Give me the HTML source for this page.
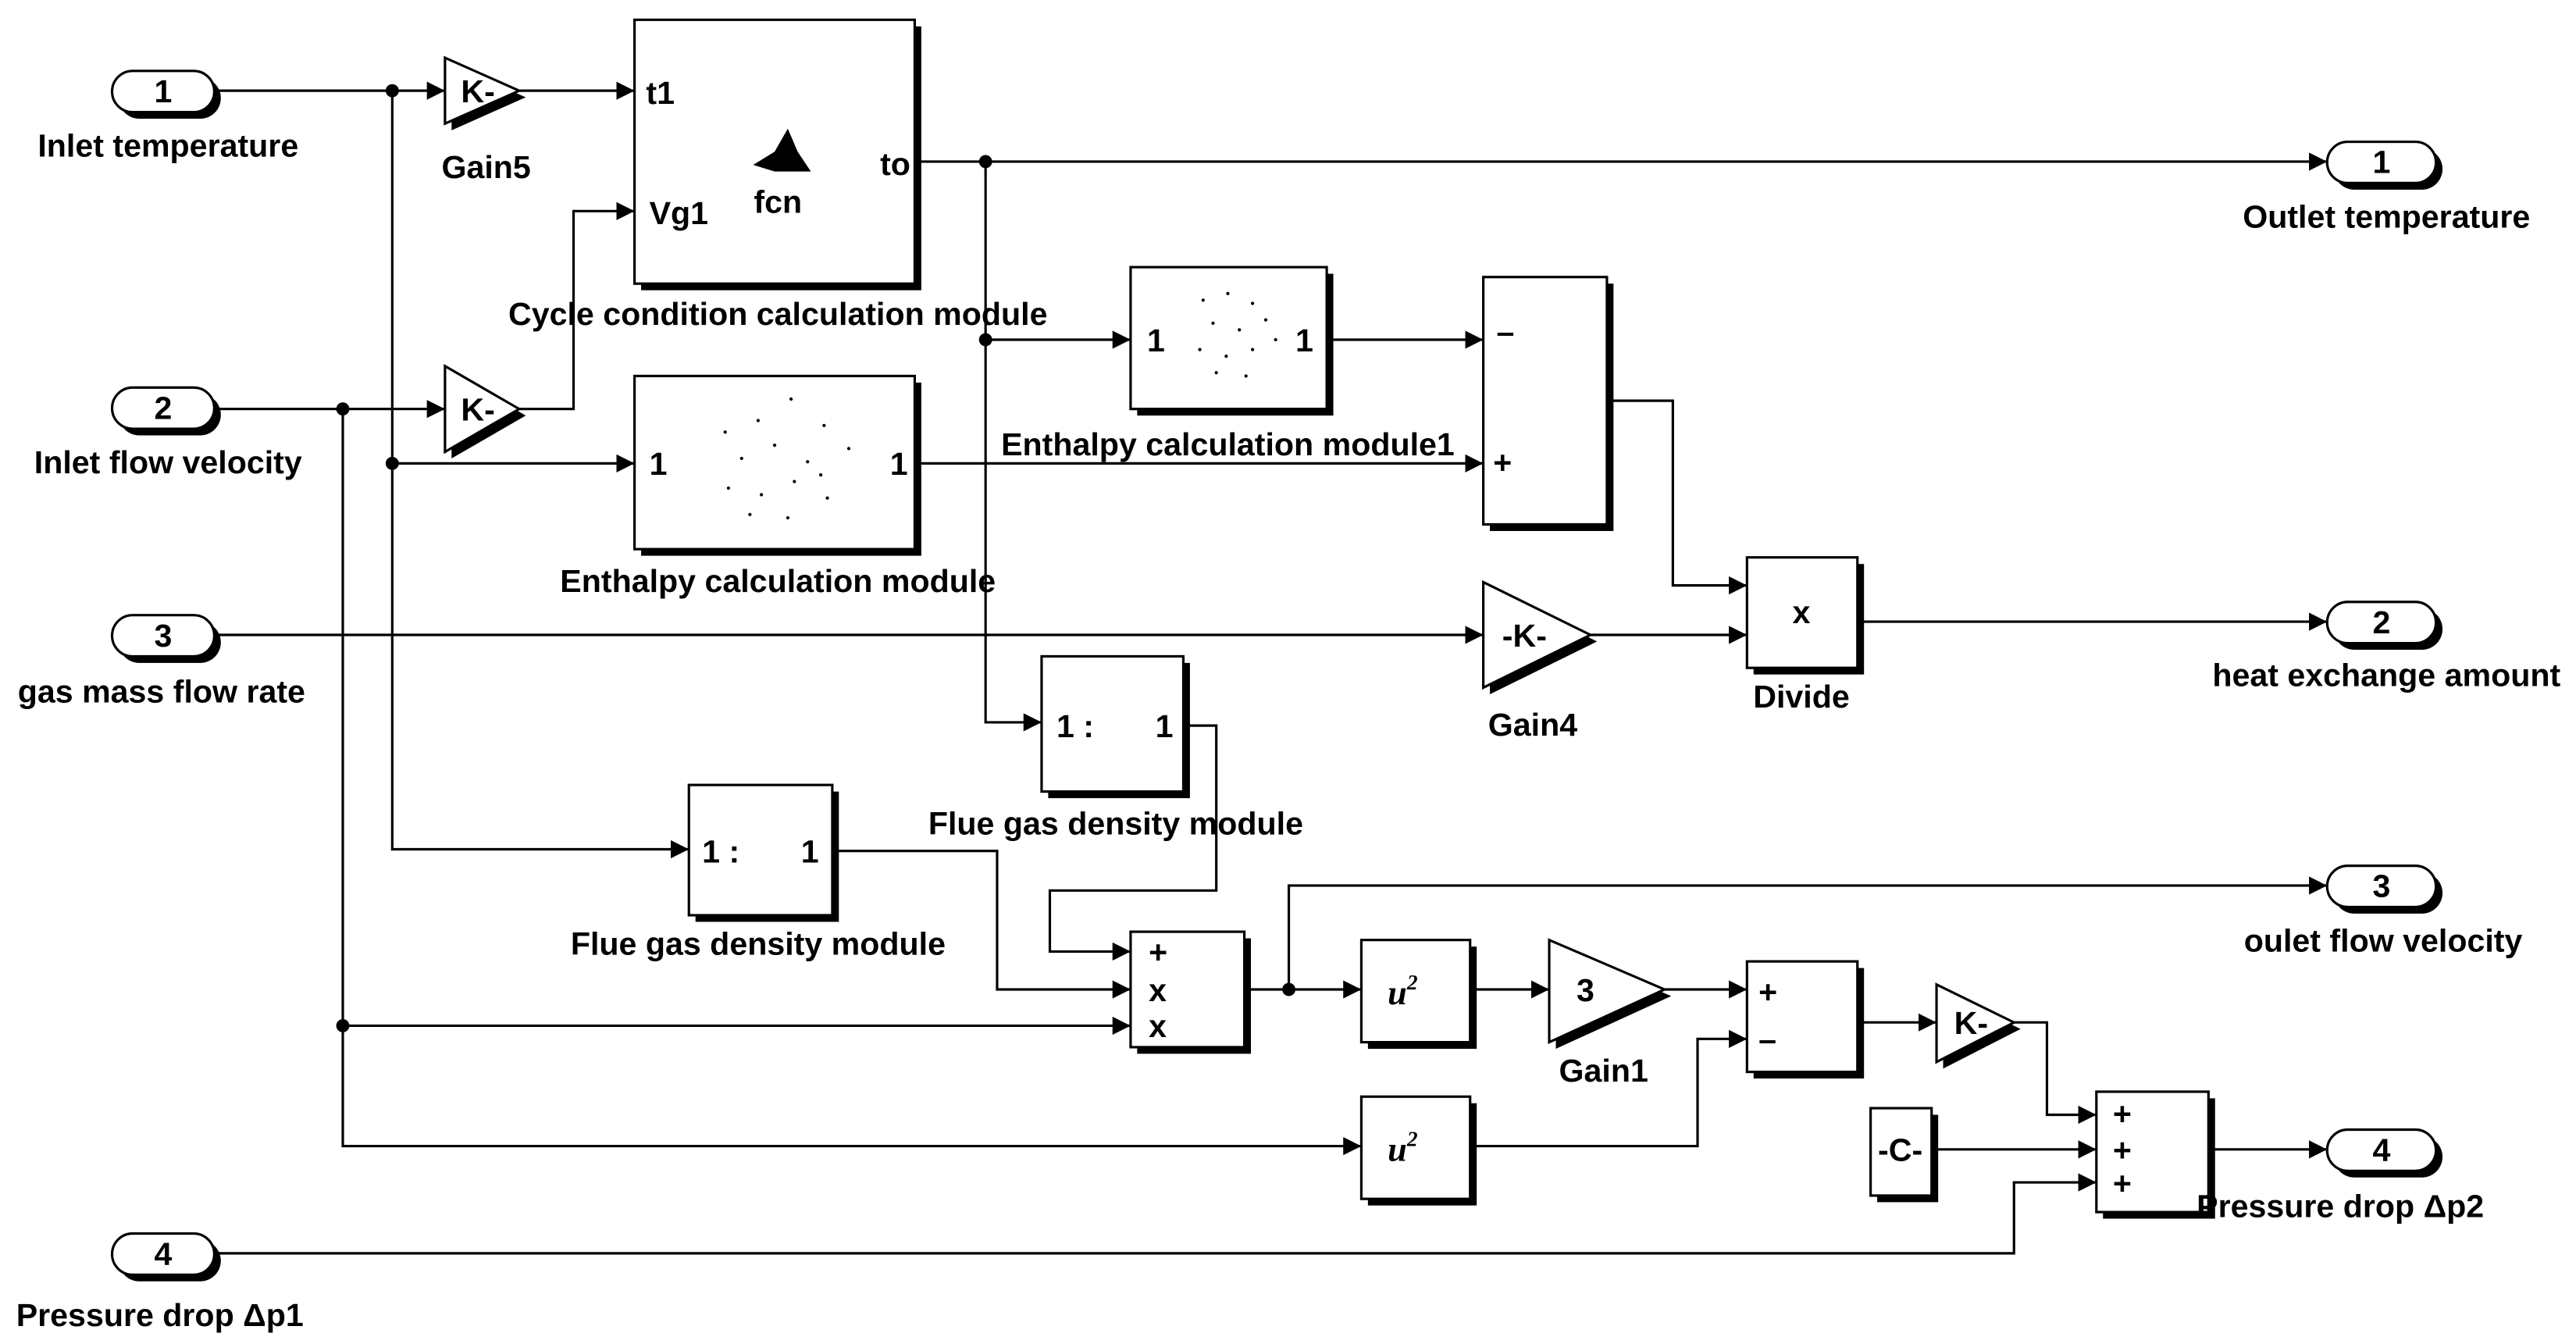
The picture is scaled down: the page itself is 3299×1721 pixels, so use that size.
<!DOCTYPE html>
<html><head><meta charset="utf-8"><style>
html,body{margin:0;padding:0;background:#fff;}
svg{display:block;}
text{font-family:"Liberation Sans",Arial,sans-serif;font-weight:bold;font-size:19.5px;fill:#000;}
</style></head><body>
<svg width="3299" height="1721" viewBox="0 0 1563 815" preserveAspectRatio="none" xmlns="http://www.w3.org/2000/svg">
<defs>
<marker id="a" viewBox="0 0 10 10" refX="10" refY="5" markerWidth="11" markerHeight="11" markerUnits="userSpaceOnUse" orient="auto"><path d="M0,0L10,5L0,10z" fill="#000"/></marker>
</defs>
<rect width="1563" height="815" fill="#fff"/>
<g fill="none" stroke="#000" stroke-width="1.5">
<path d="M130,55H270" marker-end="url(#a)"/>
<path d="M315,55H385" marker-end="url(#a)"/>
<path d="M238,55V515H418" marker-end="url(#a)"/>
<path d="M238,281H385" marker-end="url(#a)"/>
<path d="M555,98H1412" marker-end="url(#a)"/>
<path d="M598,98V438H632" marker-end="url(#a)"/>
<path d="M598,206H686" marker-end="url(#a)"/>
<path d="M805,206H900" marker-end="url(#a)"/>
<path d="M555,281H900" marker-end="url(#a)"/>
<path d="M975,243H1015V355H1060" marker-end="url(#a)"/>
<path d="M130,248H270" marker-end="url(#a)"/>
<path d="M315,248H348V128H385" marker-end="url(#a)"/>
<path d="M208,248V695H826" marker-end="url(#a)"/>
<path d="M208,622H686" marker-end="url(#a)"/>
<path d="M130,385H900" marker-end="url(#a)"/>
<path d="M965,385H1060" marker-end="url(#a)"/>
<path d="M1127,377H1412" marker-end="url(#a)"/>
<path d="M718,440H738V540H637V577H686" marker-end="url(#a)"/>
<path d="M505,516H605V600H686" marker-end="url(#a)"/>
<path d="M755,600H826" marker-end="url(#a)"/>
<path d="M782,600V537H1412" marker-end="url(#a)"/>
<path d="M892,600H940" marker-end="url(#a)"/>
<path d="M1010,600H1060" marker-end="url(#a)"/>
<path d="M892,695H1030V630H1060" marker-end="url(#a)"/>
<path d="M1127,620H1175" marker-end="url(#a)"/>
<path d="M1222,620H1242V676H1272" marker-end="url(#a)"/>
<path d="M1172,697H1272" marker-end="url(#a)"/>
<path d="M130,760H1222V717H1272" marker-end="url(#a)"/>
<path d="M1340,697H1412" marker-end="url(#a)"/>
</g>
<g fill="#000">
<circle cx="238" cy="55" r="4"/><circle cx="238" cy="281" r="4"/>
<circle cx="598" cy="98" r="4"/><circle cx="598" cy="206" r="4"/>
<circle cx="208" cy="248" r="4"/><circle cx="208" cy="622" r="4"/>
<circle cx="782" cy="600" r="4"/>
</g>
<g stroke="#000" stroke-width="1.5">
<g fill="#000" stroke="none">
<rect x="389" y="16" width="170" height="160"/>
<rect x="690" y="166" width="119" height="86"/>
<rect x="389" y="232" width="170" height="105"/>
<rect x="904" y="172" width="75" height="150"/>
<rect x="1064" y="342" width="67" height="67"/>
<rect x="636" y="402" width="86" height="82"/>
<rect x="422" y="480" width="87" height="79"/>
<rect x="690" y="569" width="69" height="70"/>
<rect x="830" y="574" width="66" height="62"/>
<rect x="830" y="669" width="66" height="62"/>
<rect x="1064" y="587" width="67" height="67"/>
<rect x="1139" y="676" width="37" height="53"/>
<rect x="1276" y="666" width="68" height="73"/>
<polygon points="274,39 319,59 274,79"/>
<polygon points="274,226 319,252 274,278"/>
<polygon points="904,357 969,389 904,421"/>
<polygon points="944,574 1014,604 944,636"/>
<polygon points="1179,601 1226,624 1179,648"/>
<rect x="72" y="47" width="62" height="25" rx="12.5"/>
<rect x="72" y="239" width="62" height="25" rx="12.5"/>
<rect x="72" y="377" width="62" height="25" rx="12.5"/>
<rect x="72" y="752" width="62" height="25" rx="12.5"/>
<rect x="1416" y="90" width="66" height="25" rx="12.5"/>
<rect x="1416" y="369" width="66" height="25" rx="12.5"/>
<rect x="1416" y="529" width="66" height="25" rx="12.5"/>
<rect x="1416" y="689" width="66" height="25" rx="12.5"/>
</g>
<g fill="#fff">
<rect x="385" y="12" width="170" height="160"/>
<rect x="686" y="162" width="119" height="86"/>
<rect x="385" y="228" width="170" height="105"/>
<rect x="900" y="168" width="75" height="150"/>
<rect x="1060" y="338" width="67" height="67"/>
<rect x="632" y="398" width="86" height="82"/>
<rect x="418" y="476" width="87" height="79"/>
<rect x="686" y="565" width="69" height="70"/>
<rect x="826" y="570" width="66" height="62"/>
<rect x="826" y="665" width="66" height="62"/>
<rect x="1060" y="583" width="67" height="67"/>
<rect x="1135" y="672" width="37" height="53"/>
<rect x="1272" y="662" width="68" height="73"/>
<polygon points="270,35 315,55 270,75"/>
<polygon points="270,222 315,248 270,274"/>
<polygon points="900,353 965,385 900,417"/>
<polygon points="940,570 1010,600 940,632"/>
<polygon points="1175,597 1222,620 1175,644"/>
<rect x="68" y="43" width="62" height="25" rx="12.5"/>
<rect x="68" y="235" width="62" height="25" rx="12.5"/>
<rect x="68" y="373" width="62" height="25" rx="12.5"/>
<rect x="68" y="748" width="62" height="25" rx="12.5"/>
<rect x="1412" y="86" width="66" height="25" rx="12.5"/>
<rect x="1412" y="365" width="66" height="25" rx="12.5"/>
<rect x="1412" y="525" width="66" height="25" rx="12.5"/>
<rect x="1412" y="685" width="66" height="25" rx="12.5"/>
</g>
</g>
<path d="M457,100 L470,92 L478,78 L484,92 L492,104 L470,104 Z" fill="#000"/>
<g fill="#000">
<circle cx="730" cy="182" r="1"/><circle cx="745" cy="178" r="1"/><circle cx="760" cy="184" r="1"/><circle cx="736" cy="196" r="1"/><circle cx="752" cy="200" r="1"/><circle cx="768" cy="194" r="1"/><circle cx="728" cy="212" r="1"/><circle cx="744" cy="216" r="1"/><circle cx="760" cy="212" r="1"/><circle cx="774" cy="206" r="1"/><circle cx="738" cy="226" r="1"/><circle cx="756" cy="228" r="1"/>
<circle cx="440" cy="262" r="1"/><circle cx="460" cy="255" r="1"/><circle cx="480" cy="242" r="1"/><circle cx="500" cy="258" r="1"/><circle cx="450" cy="278" r="1"/><circle cx="470" cy="270" r="1"/><circle cx="490" cy="280" r="1"/><circle cx="515" cy="272" r="1"/><circle cx="442" cy="296" r="1"/><circle cx="462" cy="300" r="1"/><circle cx="482" cy="292" r="1"/><circle cx="502" cy="302" r="1"/><circle cx="455" cy="312" r="1"/><circle cx="478" cy="314" r="1"/><circle cx="498" cy="288" r="1"/>
</g>
<g text-anchor="middle">
<text x="99" y="62">1</text><text x="99" y="254">2</text><text x="99" y="392">3</text><text x="99" y="767">4</text>
<text x="1445" y="105">1</text><text x="1445" y="384">2</text><text x="1445" y="544">3</text><text x="1445" y="704">4</text>
<text x="102" y="95">Inlet temperature</text>
<text x="102" y="287">Inlet flow velocity</text>
<text x="98" y="426">gas mass flow rate</text>
<text x="97" y="804">Pressure drop Δp1</text>
<text x="1448" y="138">Outlet temperature</text>
<text x="1448" y="416">heat exchange amount</text>
<text x="1446" y="577">oulet flow velocity</text>
<text x="1420" y="738">Pressure drop Δp2</text>
<text x="290" y="62">K-</text><text x="290" y="255">K-</text>
<text x="295" y="108">Gain5</text>
<text x="472" y="129">fcn</text>
<text x="472" y="197">Cycle condition calculation module</text>
<text x="745" y="276">Enthalpy calculation module1</text>
<text x="472" y="359">Enthalpy calculation module</text>
<text x="925" y="392">-K-</text>
<text x="930" y="446">Gain4</text>
<text x="1093" y="378">x</text>
<text x="1093" y="429">Divide</text>
<text x="677" y="506">Flue gas density module</text>
<text x="460" y="579">Flue gas density module</text>
<text x="962" y="607">3</text>
<text x="973" y="656">Gain1</text>
<text x="1196" y="627">K-</text>
<text x="1153" y="704">-C-</text>
</g>
<text x="392" y="63">t1</text>
<text x="394" y="136">Vg1</text>
<text x="534" y="106">to</text>
<text x="696" y="213">1</text><text x="786" y="213">1</text>
<text x="394" y="288">1</text><text x="540" y="288">1</text>
<text x="908" y="208">–</text><text x="906" y="287">+</text>
<text x="641" y="447">1 :</text><text x="701" y="447">1</text>
<text x="426" y="523">1 :</text><text x="486" y="523">1</text>
<text x="697" y="584">+</text><text x="697" y="607">x</text><text x="697" y="629">x</text>
<text x="842" y="609" style="font-family:'Liberation Serif',serif;font-style:italic;font-size:21px">u<tspan dy="-9" font-size="13">2</tspan></text>
<text x="842" y="704" style="font-family:'Liberation Serif',serif;font-style:italic;font-size:21px">u<tspan dy="-9" font-size="13">2</tspan></text>
<text x="1067" y="608">+</text><text x="1067" y="637">–</text>
<text x="1282" y="682">+</text><text x="1282" y="704">+</text><text x="1282" y="724">+</text>
</svg>
</body></html>
